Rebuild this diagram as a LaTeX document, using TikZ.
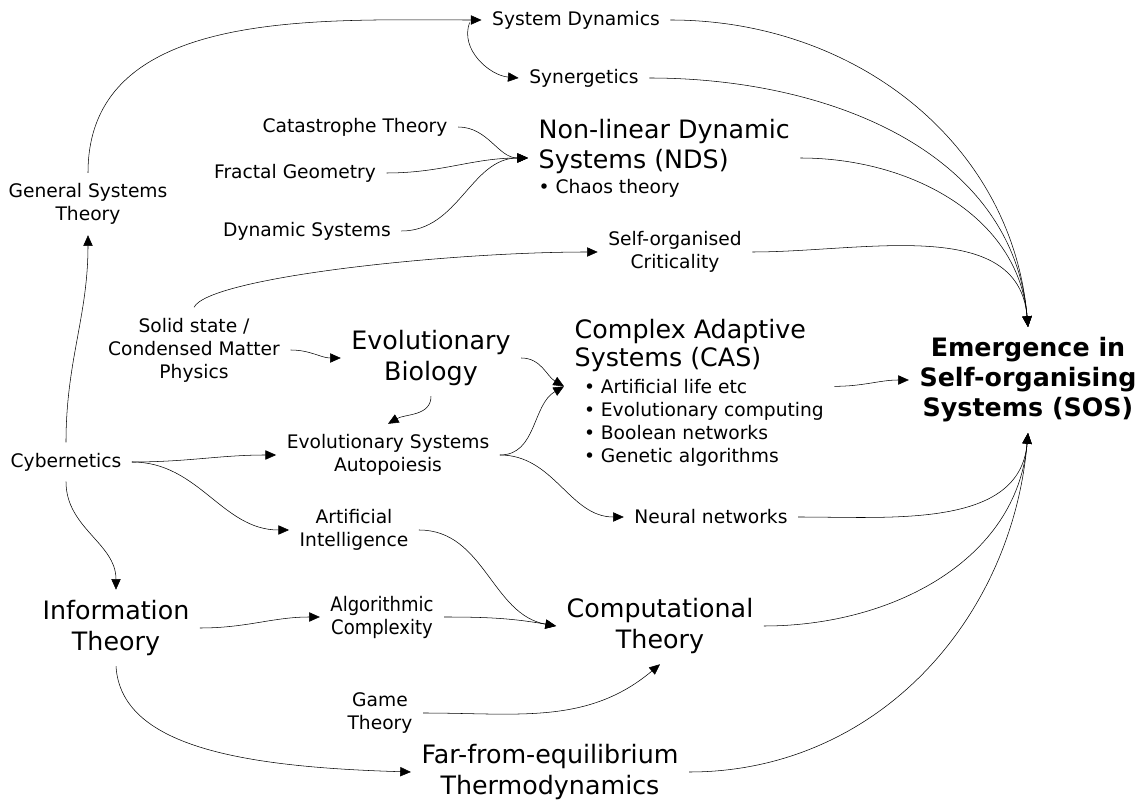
\documentclass[tikz,border=0pt]{standalone}
\usepackage{fontspec}
\setmainfont{DejaVu Sans}
\newfontfamily\condfont{DejaVu Sans Condensed}
\newcommand{\nodesmall}{\fontsize{14}{17.25}\selectfont}
\usetikzlibrary{arrows.meta,positioning}

\tikzset{
  small/.style={font=\nodesmall, align=center, inner sep=3pt, outer sep=5pt},
  narrow/.style={font=\condfont\fontsize{15}{17.25}\selectfont, align=center, inner sep=3pt, outer sep=5pt},
  big/.style={font=\fontsize{19}{23}\selectfont, align=center, inner sep=3pt, outer sep=5pt},
  sos/.style={font=\bfseries\fontsize{19}{22.5}\selectfont, align=center, inner sep=3pt, outer sep=5pt},
  link/.style={-{Triangle[length=8pt,width=7pt]}, thin},
}

\begin{document}
\begin{tikzpicture}[x=0.75pt, y=0.75pt]
\useasboundingbox (0,-805) rectangle (1143,0);

\node (sysdyn) [small] at (576,-20) {System Dynamics};
\node (synerg) [small] at (584,-78) {Synergetics};
\node (catas) [small] at (355,-127) {Catastrophe Theory};
\node (fractal) [small] at (295,-173) {Fractal Geometry};
\node (dynsys) [small] at (307,-231) {Dynamic Systems};
\node (nds) [big, align=left, anchor=west] at (528,-158) {Non-linear Dynamic\\[-0.5pt]Systems (NDS)\\[-4.25pt]{\nodesmall • Chaos theory}};
\node (gst) [small] at (88,-204) {General Systems\\Theory};
\node (soc) [small] at (675,-252) {Self-organised\\Criticality};
\node (solid) [small] at (194,-350) {Solid state /\\Condensed Matter\\Physics};
\node (evobio) [big] at (431,-358) {Evolutionary\\Biology};
\node (cas) [big, align=left, anchor=west] at (564,-393) {Complex Adaptive\\[-2pt]Systems (CAS)\\[-2.75pt]{\nodesmall\hspace{7pt}• Artificial life etc}\\[-5.75pt]{\nodesmall\hspace{7pt}• Evolutionary computing}\\[-5.75pt]{\nodesmall\hspace{7pt}• Boolean networks}\\[-5.75pt]{\nodesmall\hspace{7pt}• Genetic algorithms}};
\node (sos) [sos] at (1028,-380) {Emergence in\\Self-organising\\Systems (SOS)};
\node (cyb) [small] at (66,-462) {Cybernetics};
\node (evosys) [small] at (388,-455) {Evolutionary Systems\\Autopoiesis};
\node (ai) [small] at (354,-530) {Artificial\\Intelligence};
\node (neural) [small] at (711,-517) {Neural networks};
\node (info) [big] at (116,-628) {Information\\Theory};
\node (algo) [narrow] at (382,-617) {Algorithmic\\Complexity};
\node (comp) [big] at (660,-626) {Computational\\Theory};
\node (game) [small] at (380,-713) {Game\\Theory};
\node (far) [big] at (550,-772) {Far-from-equilibrium\\Thermodynamics};

\draw[link] (cyb.north) to[out=90, in=-90] (gst.south);
\draw[link] (gst.north) to[out=90, in=180] (sysdyn.west);
\draw[link] ([xshift=-9pt, yshift=-2pt]sysdyn.west) to[out=-110, in=175] (synerg.west);
\draw[link] (catas.east) to[out=0, in=180] (nds.west);
\draw[link] (fractal.east) to[out=0, in=180] (nds.west);
\draw[link] (dynsys.east) to[out=0, in=180] (nds.west);
\draw[link] (solid.north) .. controls +(15,30) and +(-150,0) .. (soc.west);
\draw[link] (solid.east) to[out=0, in=180] (evobio.west);
\draw[link] (evobio.south) to[out=-90, in=30] (evosys.north);
\draw[link] (evobio.east) to[out=0, in=150] ([yshift=5pt]cas.west);
\draw[link] (evosys.east) to[out=0, in=-150] ([yshift=5pt]cas.west);
\draw[link] (evosys.east) to[out=0, in=180] (neural.west);
\draw[link] (cyb.east) to[out=0, in=180] (evosys.west);
\draw[link] (cyb.east) to[out=0, in=180] (ai.west);
\draw[link] (cyb.south) to[out=-90, in=90] (info.north);
\draw[link] (ai.east) to[out=0, in=170] (comp.west);
\draw[link] (info.east) to[out=0, in=180] (algo.west);
\draw[link] (algo.east) to[out=0, in=170] (comp.west);
\draw[link] (game.east) to[out=0, in=-140] (comp.south);
\draw[link] (info.south) .. controls +(5,-80) and +(-170,5) .. (far.west);
\draw[link] (sysdyn.east) to[out=0, in=95] (sos.north);
\draw[link] (synerg.east) to[out=0, in=95] (sos.north);
\draw[link] (nds.east) to[out=0, in=95] (sos.north);
\draw[link] (soc.east) to[out=0, in=95] (sos.north);
\draw[link] ([yshift=5pt]cas.east) to[out=0, in=180] (sos.west);
\draw[link] (neural.east) to[out=0, in=-95] (sos.south);
\draw[link] (comp.east) to[out=0, in=-95] (sos.south);
\draw[link] (far.east) to[out=0, in=-95] (sos.south);
\end{tikzpicture}
\end{document}
